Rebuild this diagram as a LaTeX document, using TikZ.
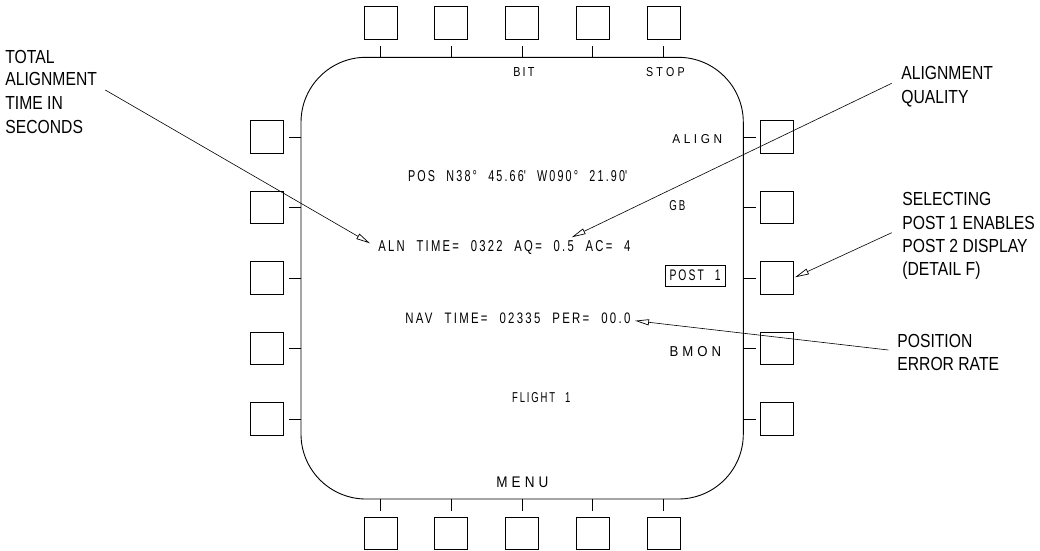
\documentclass[tikz,border=0pt]{standalone}
\usepackage{fontspec}
\setmainfont{Liberation Sans}
\newfontfamily\lblfont{Liberation Sans}[FakeStretch=0.83]
\newfontfamily\scrfont{Liberation Sans}[LetterSpace=20,WordSpace=2.2]
\usetikzlibrary{arrows.meta}
\newcommand\lsp{\kern0.3em}
\newcommand\fitT[3]{\resizebox{#1pt}{#2pt}{\scrfont #3}}
\begin{document}
\begin{tikzpicture}[x=1pt,y=-1pt,line width=0.8pt,
  btn/.style={draw, minimum width=33pt, minimum height=32.6pt, inner sep=0pt, outer sep=0pt},
  scr/.style={inner sep=0pt, anchor=base west},
  lbl/.style={inner sep=0pt, anchor=base west, font=\lblfont\fontsize{18.9}{22}\selectfont},
  callout/.style={line width=0.6pt, -{Triangle[open,length=14pt,width=6pt,line width=0.7pt]}}]
\useasboundingbox (0,0) rectangle (1040,550);
% screen
\node[draw, line width=0.9pt, rounded corners=65pt, minimum width=442.3pt, minimum height=441.7pt, inner sep=0pt, outer sep=0pt] (screen) at (522.15,278.15) {};
% top and bottom buttons
\foreach \i/\x in {1/380.5,2/451.2,3/522,4/592.8,5/663.5} {
  \node[btn] (t\i) at (\x,23) {};
  \node[btn] (b\i) at (\x,533.2) {};
  \draw (t\i.south) ++(0,7) -- ++(0,11.3);
  \draw (b\i.north) ++(0,-6) -- ++(0,-12);
}
% side buttons
\foreach \i/\y in {1/137,2/207.5,3/278,4/348.5,5/419} {
  \node[btn] (l\i) at (267.2,\y) {};
  \node[btn] (r\i) at (777.3,\y) {};
  \draw (l\i.east) ++(5.3,0) -- ++(12,0);
  \draw (r\i.west) ++(-5.3,0) -- ++(-12,0);
}
% screen texts
\node[scr] (bit) at (513,76.5) {\fitT{21}{9}{BIT}};
\node[scr] (stop) at (645.7,76.5) {\fitT{38.6}{9}{S\lsp T\lsp O\lsp P}};
\node[scr] (align) at (672,143) {\fitT{49.7}{9}{A\lsp L\lsp I\lsp G\lsp N}};
\node[scr] (pos) at (407.7,181.7) {\fitT{219}{11}{POS N38\kern2pt° 45.66\textquotesingle{} W090\kern2pt° 21.90\textquotesingle}};
\node[scr] (gb) at (669,210) {\fitT{16}{10}{GB}};
\node[draw, line width=0.7pt, inner xsep=4.5pt, inner ysep=5.15pt] (post) at (695,275.5) {\fitT{51}{10.7}{POST 1}};
\node[scr] (aln) at (378,251.7) {\fitT{252}{11}{ALN TIME= 0322 AQ= 0.5 AC= 4}};
\node[scr] (nav) at (405,323.3) {\fitT{225}{10.6}{NAV TIME= 02335 PER= 00.0}};
\node[scr] (bmon) at (669.3,356) {\fitT{51.4}{10}{B\lsp M\lsp O\lsp N}};
\node[scr] (flight) at (511.7,402.7) {\fitT{58.3}{10}{FLIGHT 1}};
\node[scr] (menu) at (496,487.3) {\fitT{52}{10.6}{M\lsp E\lsp N\lsp U}};
% labels
\node[lbl] (tot1) at (5,63.3) {TOTAL};
\node[lbl] (tot2) at (5,85.7) {ALIGNMENT};
\node[lbl] (tot3) at (5,109.3) {TIME IN};
\node[lbl] (tot4) at (5,133) {SECONDS};
\node[lbl] (aq1) at (901,79.3) {ALIGNMENT};
\node[lbl] (aq2) at (901,103.3) {QUALITY};
\node[lbl] (sel1) at (902,205) {SELECTING};
\node[lbl] (sel2) at (902,229) {POST 1 ENABLES};
\node[lbl] (sel3) at (902,252.7) {POST 2 DISPLAY};
\node[lbl] (sel4) at (902,275.5) {(DETAIL F)};
\node[lbl] (per1) at (897,347.3) {POSITION};
\node[lbl] (per2) at (897,370.7) {ERROR RATE};
% callouts
\coordinate (c1s) at (105.3,90);   \coordinate (c1e) at (370,243.3);
\coordinate (c2s) at (891.7,83.3); \coordinate (c2e) at (571.7,237.3);
\coordinate (c3s) at (891.7,232.7);\coordinate (c3e) at (795,277.3);
\coordinate (c4s) at (888.3,350);  \coordinate (c4e) at (635,320.7);
\draw[callout] (c1s) -- (c1e);
\draw[callout] (c2s) -- (c2e);
\draw[callout] (c3s) -- (c3e);
\draw[callout] (c4s) -- (c4e);
\end{tikzpicture}
\end{document}
